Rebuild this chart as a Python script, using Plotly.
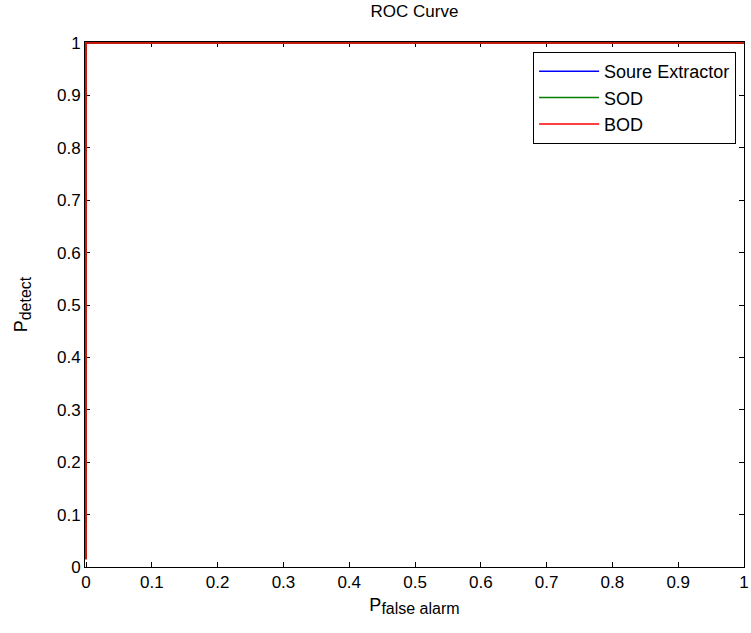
import plotly.graph_objects as go

# ROC data (all three curves overlap: straight up the left edge then along the top)
fpr_source = [0, 0, 1]
tpr_source = [0.015, 1, 1]
fpr_sod = [0, 0, 1]
tpr_sod = [0.015, 1, 1]
fpr_bod = [0, 0, 1]
tpr_bod = [0.015, 1, 1]

tick_vals = [0, 0.1, 0.2, 0.3, 0.4, 0.5, 0.6, 0.7, 0.8, 0.9, 1]
tick_text = ["0", "0.1", "0.2", "0.3", "0.4", "0.5", "0.6", "0.7", "0.8", "0.9", "1"]

names = ["Soure Extractor", "SOD", "BOD"]
colors = ["#0000ff", "#008000", "#ff0000"]

fig = go.Figure()
for i, (xs, ys) in enumerate([(fpr_source, tpr_source), (fpr_sod, tpr_sod), (fpr_bod, tpr_bod)]):
    fig.add_trace(go.Scatter(x=xs, y=ys, mode="lines", name=names[i],
                             line=dict(color=colors[i], width=1.5),
                             legendgroup=f"g{i}"))

font = "Liberation Sans, Arial, sans-serif"
axis_common = dict(
    tickvals=tick_vals, ticktext=tick_text,
    ticks="inside", ticklen=5, tickcolor="black", tickwidth=1,
    showline=True, linecolor="black", linewidth=1, mirror="ticks",
    showgrid=False, zeroline=False, layer="below traces",
    ticklabeloverflow="allow",
    tickfont=dict(family=font, size=17, color="black"),
)

fig.update_layout(
    width=751, height=633,
    margin=dict(l=85, r=2, t=42, b=66),
    paper_bgcolor="white", plot_bgcolor="white",
    title=dict(text="ROC Curve", x=0.5, xanchor="center", y=0.983, yanchor="middle",
               xref="paper",
               font=dict(family=font, size=17, color="black")),
    xaxis=dict(axis_common, range=[-0.0016, 1], title=dict(
        text="P<sub><span style='font-size:16px'>false alarm</span></sub>", standoff=6,
        font=dict(family=font, size=18, color="black"))),
    yaxis=dict(axis_common, range=[0, 1.002], title=dict(
        text="P<sub><span style='font-size:16px'>detect</span></sub>", standoff=24,
        font=dict(family=font, size=18, color="black"))),
    showlegend=True,
    legend=dict(x=0.988, xanchor="right", y=0.981, yanchor="top",
                bordercolor="black", borderwidth=1, bgcolor="white",
                font=dict(family=font, size=18, color="black"),
                tracegroupgap=0, itemwidth=60),
)

fig.write_html("out.html")
